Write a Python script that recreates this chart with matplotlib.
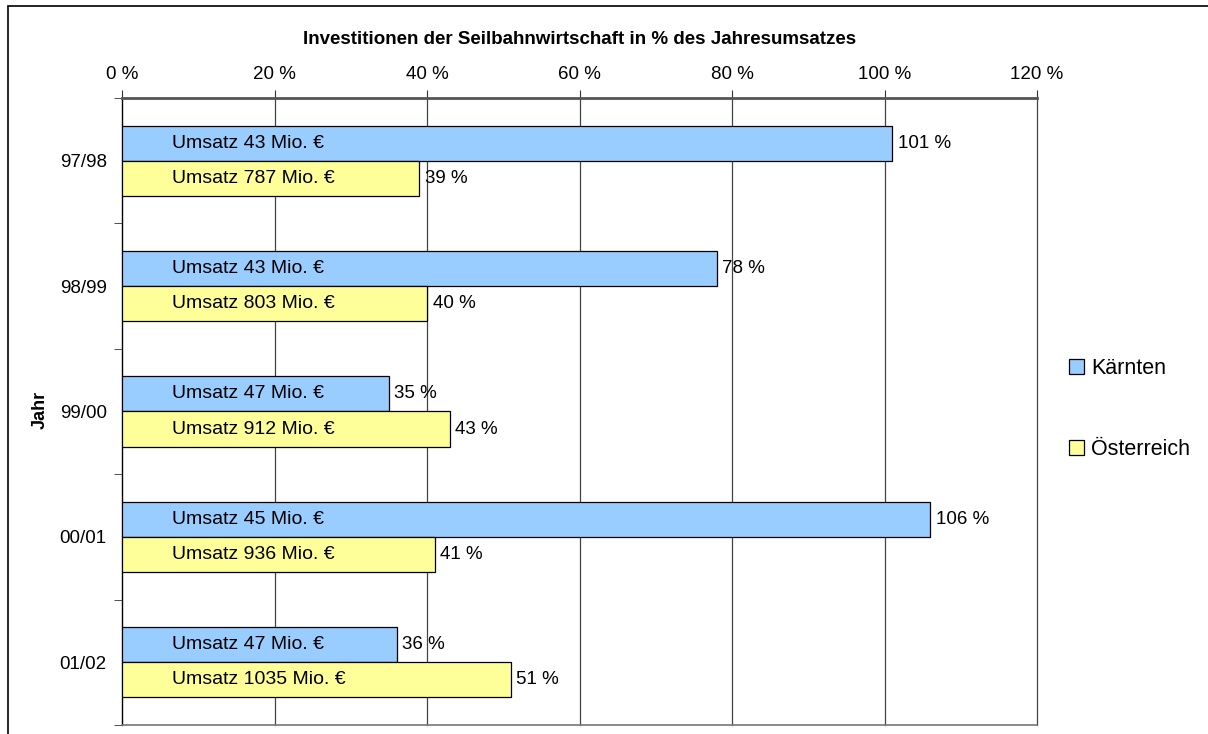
import matplotlib.pyplot as plt
from matplotlib.patches import Rectangle, Patch

plt.rcParams['font.family'] = ['Liberation Sans', 'DejaVu Sans']

jahre = ["97/98", "98/99", "99/00", "00/01", "01/02"]
kaernten = [101, 78, 35, 106, 36]
oesterreich = [39, 40, 43, 41, 51]
umsatz_kaernten = [43, 43, 47, 45, 47]
umsatz_oesterreich = [787, 803, 912, 936, 1035]

blau = "#99CCFF"
gelb = "#FFFF99"

fig = plt.figure(figsize=(12.08, 7.34), dpi=100)
ax = fig.add_axes([122 / 1208, 1 - 725 / 734, (1037 - 122) / 1208, (725 - 98) / 734])

# Rahmen um das Diagramm
fig.patches.append(Rectangle((8 / 1208, -0.05), 1.1, 1 - 6 / 734 + 0.05,
                             transform=fig.transFigure, fill=False,
                             edgecolor="black", linewidth=1.2))

h = 0.28
y = list(range(len(jahre)))
y_k = [i - h / 2 for i in y]
y_o = [i + h / 2 for i in y]

ax.barh(y_k, kaernten, height=h, color=blau, edgecolor="black", linewidth=0.9, zorder=3)
ax.barh(y_o, oesterreich, height=h, color=gelb, edgecolor="black", linewidth=0.9, zorder=3)

fs = 13.5
for i in range(len(jahre)):
    ax.annotate(f"Umsatz {umsatz_kaernten[i]} Mio. €", (0, y_k[i]), xytext=(36, 0),
                textcoords="offset points", va="center", fontsize=14, zorder=4)
    ax.annotate(f"Umsatz {umsatz_oesterreich[i]} Mio. €", (0, y_o[i]), xytext=(36, 0),
                textcoords="offset points", va="center", fontsize=14, zorder=4)
    ax.annotate(f"{kaernten[i]} %", (kaernten[i], y_k[i]), xytext=(4, 0),
                textcoords="offset points", va="center", fontsize=fs, zorder=4)
    ax.annotate(f"{oesterreich[i]} %", (oesterreich[i], y_o[i]), xytext=(4, 0),
                textcoords="offset points", va="center", fontsize=fs, zorder=4)

ax.set_xlim(0, 120)
ax.set_ylim(len(jahre) - 0.5, -0.5)
ax.xaxis.tick_top()
ax.set_xticks(range(0, 121, 20))
ax.set_xticklabels([f"{v} %" for v in range(0, 121, 20)], fontsize=fs)
ax.tick_params(axis="x", length=6, pad=5, color="#333333")
ax.set_yticks(y)
ax.set_yticklabels(jahre, fontsize=fs)
ax.set_yticks([i - 0.5 for i in range(len(jahre) + 1)], minor=True)
ax.tick_params(axis="y", which="major", length=0, pad=11)
ax.tick_params(axis="y", which="minor", length=6, color="#333333")

for v in range(20, 121, 20):
    ax.axvline(v, color="#444444", linewidth=0.9, zorder=1, clip_on=False)

ax.spines["right"].set_visible(False)
ax.spines["top"].set_color("#555555")
ax.spines["top"].set_linewidth(2)
ax.spines["bottom"].set_color("#777777")
ax.spines["bottom"].set_linewidth(1.2)
ax.spines["left"].set_linewidth(1)

fig.text(580 / 1208, 1 - 39 / 734, "Investitionen der Seilbahnwirtschaft in % des Jahresumsatzes",
         ha="center", va="center", fontsize=13.5, fontweight="bold")
fig.text(40 / 1208, 1 - 410 / 734, "Jahr", rotation=90, ha="center", va="center",
         fontsize=13, fontweight="bold")

handles = [Patch(facecolor=blau, edgecolor="black", linewidth=0.9),
           Patch(facecolor=gelb, edgecolor="black", linewidth=0.9)]
fig.legend(handles, ["Kärnten", "Österreich"], loc="center left",
           bbox_to_anchor=(1050 / 1208, 1 - 409 / 734), frameon=False, fontsize=15.5,
           handlelength=0.7, handleheight=0.7, handletextpad=0.3, labelspacing=2.75)

plt.savefig("out.png", dpi=100)
